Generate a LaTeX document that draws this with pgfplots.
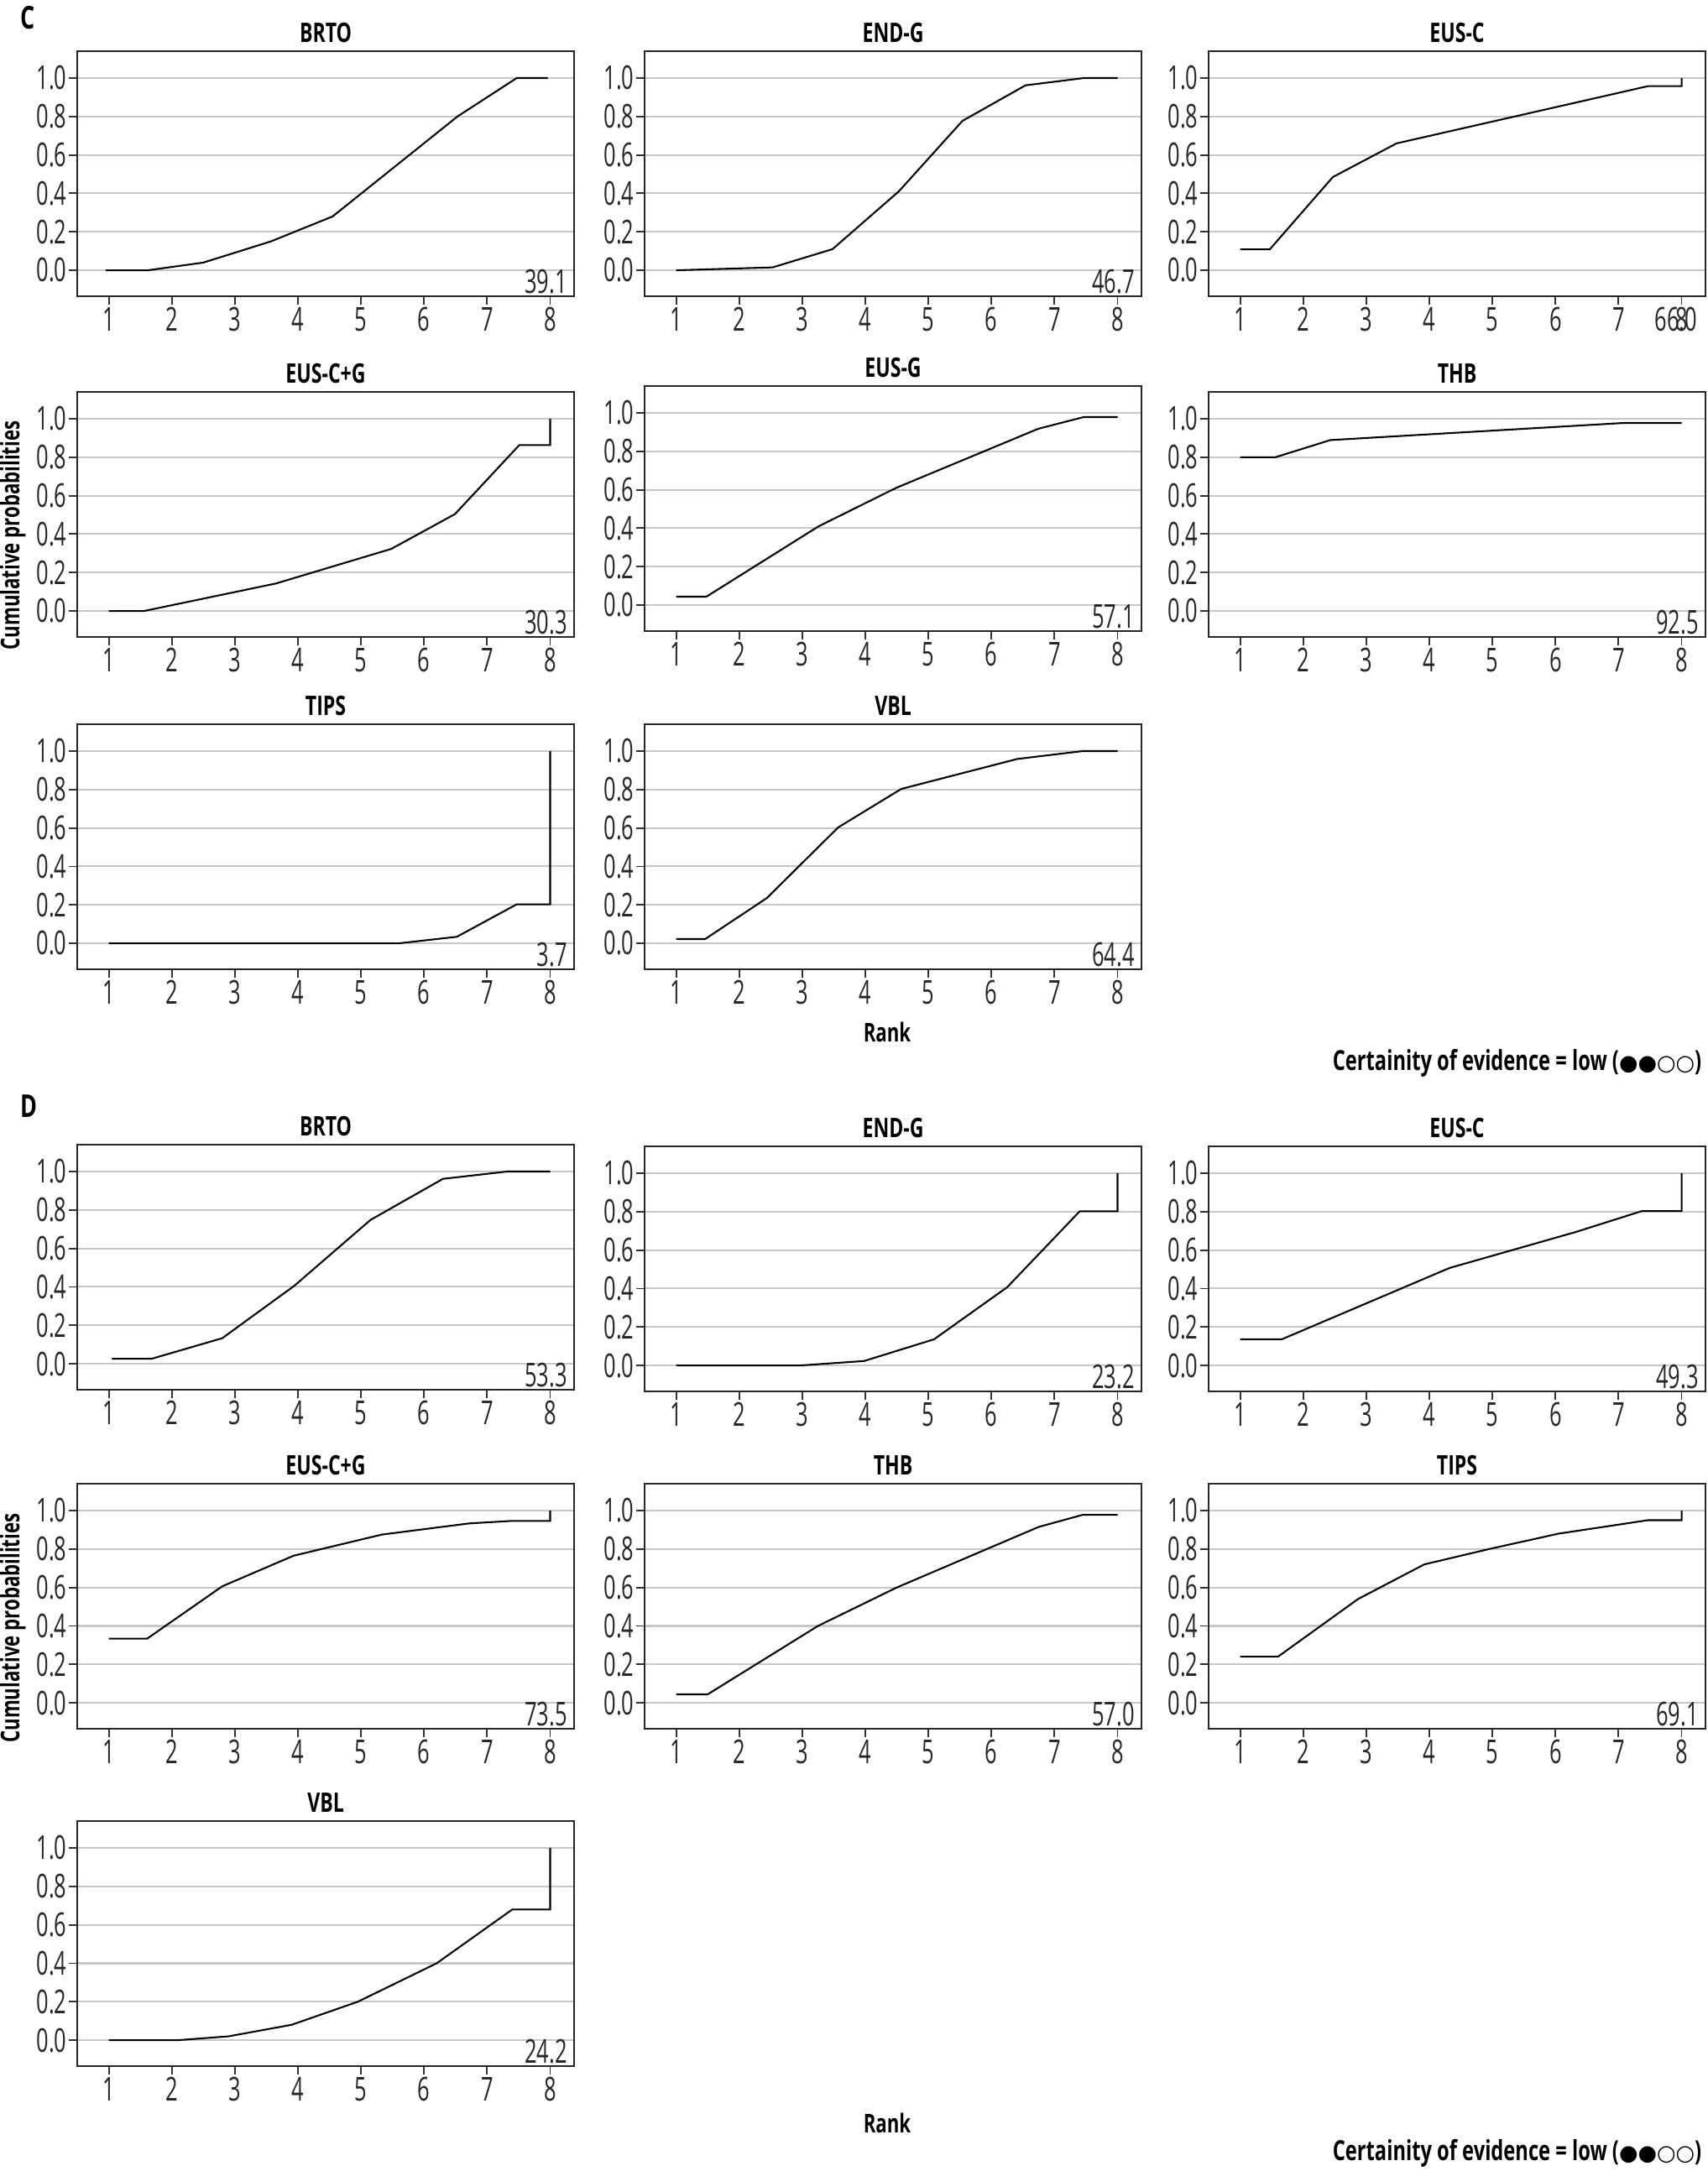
\documentclass[border=0pt]{standalone}
\usepackage{fontspec}
\setmainfont{Open Sans}[FakeStretch=0.72]
\newfontfamily\tickfont{Open Sans}[FakeStretch=0.65]
\newfontfamily\symfont{DejaVu Sans}
\usepackage{pgfplots}
\pgfplotsset{compat=1.18}

% 1 px of the reference = 0.24pt
\pgfplotsset{
  rk/.style={
    scale only axis, width=142.1pt, height=70.1pt,
    anchor=south west, clip=false,
    xmin=0.5, xmax=8.38, ymin=-0.135, ymax=1.14,
    xtick={1,2,...,8}, ytick={0,0.2,0.4,0.6,0.8,1},
    xtick pos=bottom, ytick pos=left, tick align=outside,
    major tick length=2.5pt,
    tick style={black!80, line width=0.45pt},
    /pgf/number format/assume math mode=true,
    ticklabel style={font=\tickfont\fontsize{9.4}{10}\selectfont, black!85},
    xticklabel style={inner sep=0.5pt},
    yticklabel style={inner sep=0.3pt, /pgf/number format/.cd, fixed, fixed zerofill, precision=1},
    ymajorgrids, grid style={black!22, line width=0.5pt},
    axis line style={black!85, line width=0.6pt},
    every axis title/.style={font=\bfseries\fontsize{7.7}{8}\selectfont,
      at={(0.5,1)}, anchor=base, yshift=2.4pt},
  },
}
\tikzset{sucra/.style={anchor=south east, inner xsep=1.8pt, inner ysep=0.6pt,
  font=\tickfont\fontsize{9.4}{10}\selectfont, black!85}}

% #1 left px, #2 bottom px, #3 title, #4 extra node options, #5 sucra, #6 coordinates
\newcommand{\panel}[6]{%
  \begin{axis}[rk, at={(#1*0.24pt,-#2*0.24pt)}, title={#3}]
    \addplot[black, line width=0.5pt] coordinates {#6};
    \node[sucra,#4] at (rel axis cs:1,0) {#5};
  \end{axis}}

\newcommand{\lab}{\bfseries\fontsize{7.4}{8}\selectfont}
\newcommand{\cert}{Certainity of evidence = low ({\symfont\fontsize{6.2}{7}\selectfont ●●○○})}

\begin{document}
\begin{tikzpicture}
\useasboundingbox (0,0) rectangle (2034*0.24pt,-2587*0.24pt);

% ---------------- C ----------------
\node[anchor=west, inner sep=0pt, font=\bfseries\fontsize{9}{10}\selectfont] at (24*0.24pt,-21*0.24pt) {C};

\panel{92}{353}{BRTO}{}{39.1}{(0.95,0)(1.62,0)(2.5,0.04)(3.57,0.15)(4.55,0.28)(6.53,0.80)(7.47,1)(7.96,1)}
\panel{768}{353}{END-G}{}{46.7}{(1,0)(2.53,0.015)(3.48,0.11)(4.53,0.41)(5.54,0.777)(6.54,0.962)(7.47,1)(8,1)}
\panel{1440}{353}{EUS-C}{anchor=north east, inner sep=0pt, yshift=-3pt, xshift=-2.2pt}{66.0}{(1,0.109)(1.47,0.109)(2.47,0.485)(3.48,0.66)(7.47,0.958)(8,0.958)(8,1)}

\panel{92}{759}{EUS-C+G}{}{30.3}{(1,0)(1.56,0)(3.65,0.143)(5.48,0.323)(6.49,0.504)(7.51,0.863)(8,0.863)(8,1)}
\panel{768}{752}{EUS-G}{}{57.1}{(1,0.044)(1.48,0.044)(3.26,0.41)(4.49,0.61)(6.74,0.917)(7.46,0.978)(8,0.978)}
\panel{1440}{759}{THB}{}{92.5}{(1,0.8)(1.56,0.8)(2.43,0.889)(7.08,0.978)(8,0.978)}

\panel{92}{1155}{TIPS}{}{3.7}{(1,0)(5.6,0)(6.52,0.034)(7.47,0.203)(8,0.203)(8,1)}
\panel{768}{1155}{VBL}{}{64.4}{(1,0.022)(1.46,0.022)(2.44,0.236)(3.57,0.603)(4.57,0.803)(6.41,0.959)(7.45,1)(8,1)}

\node[rotate=90, font=\lab] at (15*0.24pt,-638*0.24pt) {Cumulative probabilities};
\node[font=\lab] at (1057*0.24pt,-1230*0.24pt) {Rank};
\node[anchor=east, font=\bfseries\fontsize{7.9}{9}\selectfont, inner sep=0pt] at (2028*0.24pt,-1267*0.24pt) {\cert};

% ---------------- D ----------------
\node[anchor=west, inner sep=0pt, font=\bfseries\fontsize{9}{10}\selectfont] at (24*0.24pt,-1318*0.24pt) {D};

\panel{92}{1656}{BRTO}{}{53.3}{(1.05,0.026)(1.68,0.026)(2.8,0.133)(3.94,0.405)(5.15,0.748)(6.3,0.962)(7.32,1)(8,1)}
\panel{768}{1658}{END-G}{}{23.2}{(1,0)(2.97,0)(3.98,0.023)(5.09,0.136)(6.25,0.407)(7.4,0.802)(8,0.802)(8,1)}
\panel{1440}{1658}{EUS-C}{}{49.3}{(1,0.136)(1.66,0.136)(4.32,0.507)(6.32,0.694)(7.37,0.803)(8,0.803)(8,1)}

\panel{92}{2060}{EUS-C+G}{}{73.5}{(1,0.334)(1.61,0.334)(2.8,0.606)(3.93,0.765)(5.33,0.875)(6.71,0.933)(7.38,0.946)(8,0.946)(8,1)}
\panel{768}{2060}{THB}{}{57.0}{(1,0.044)(1.5,0.044)(3.25,0.40)(4.5,0.60)(6.75,0.915)(7.45,0.978)(8,0.978)}
\panel{1440}{2060}{TIPS}{}{69.1}{(1,0.24)(1.6,0.24)(2.87,0.54)(3.92,0.72)(4.95,0.80)(6.05,0.88)(7.47,0.95)(8,0.95)(8,1)}

\panel{92}{2462}{VBL}{}{24.2}{(1,0)(2.1,0)(2.9,0.02)(3.9,0.08)(4.95,0.2)(6.2,0.4)(7.4,0.68)(8,0.68)(8,1)}

\node[rotate=90, font=\lab] at (15*0.24pt,-1940*0.24pt) {Cumulative probabilities};
\node[font=\lab] at (1057*0.24pt,-2530*0.24pt) {Rank};
\node[anchor=east, font=\bfseries\fontsize{7.9}{9}\selectfont, inner sep=0pt] at (2028*0.24pt,-2566*0.24pt) {\cert};
\end{tikzpicture}
\end{document}
